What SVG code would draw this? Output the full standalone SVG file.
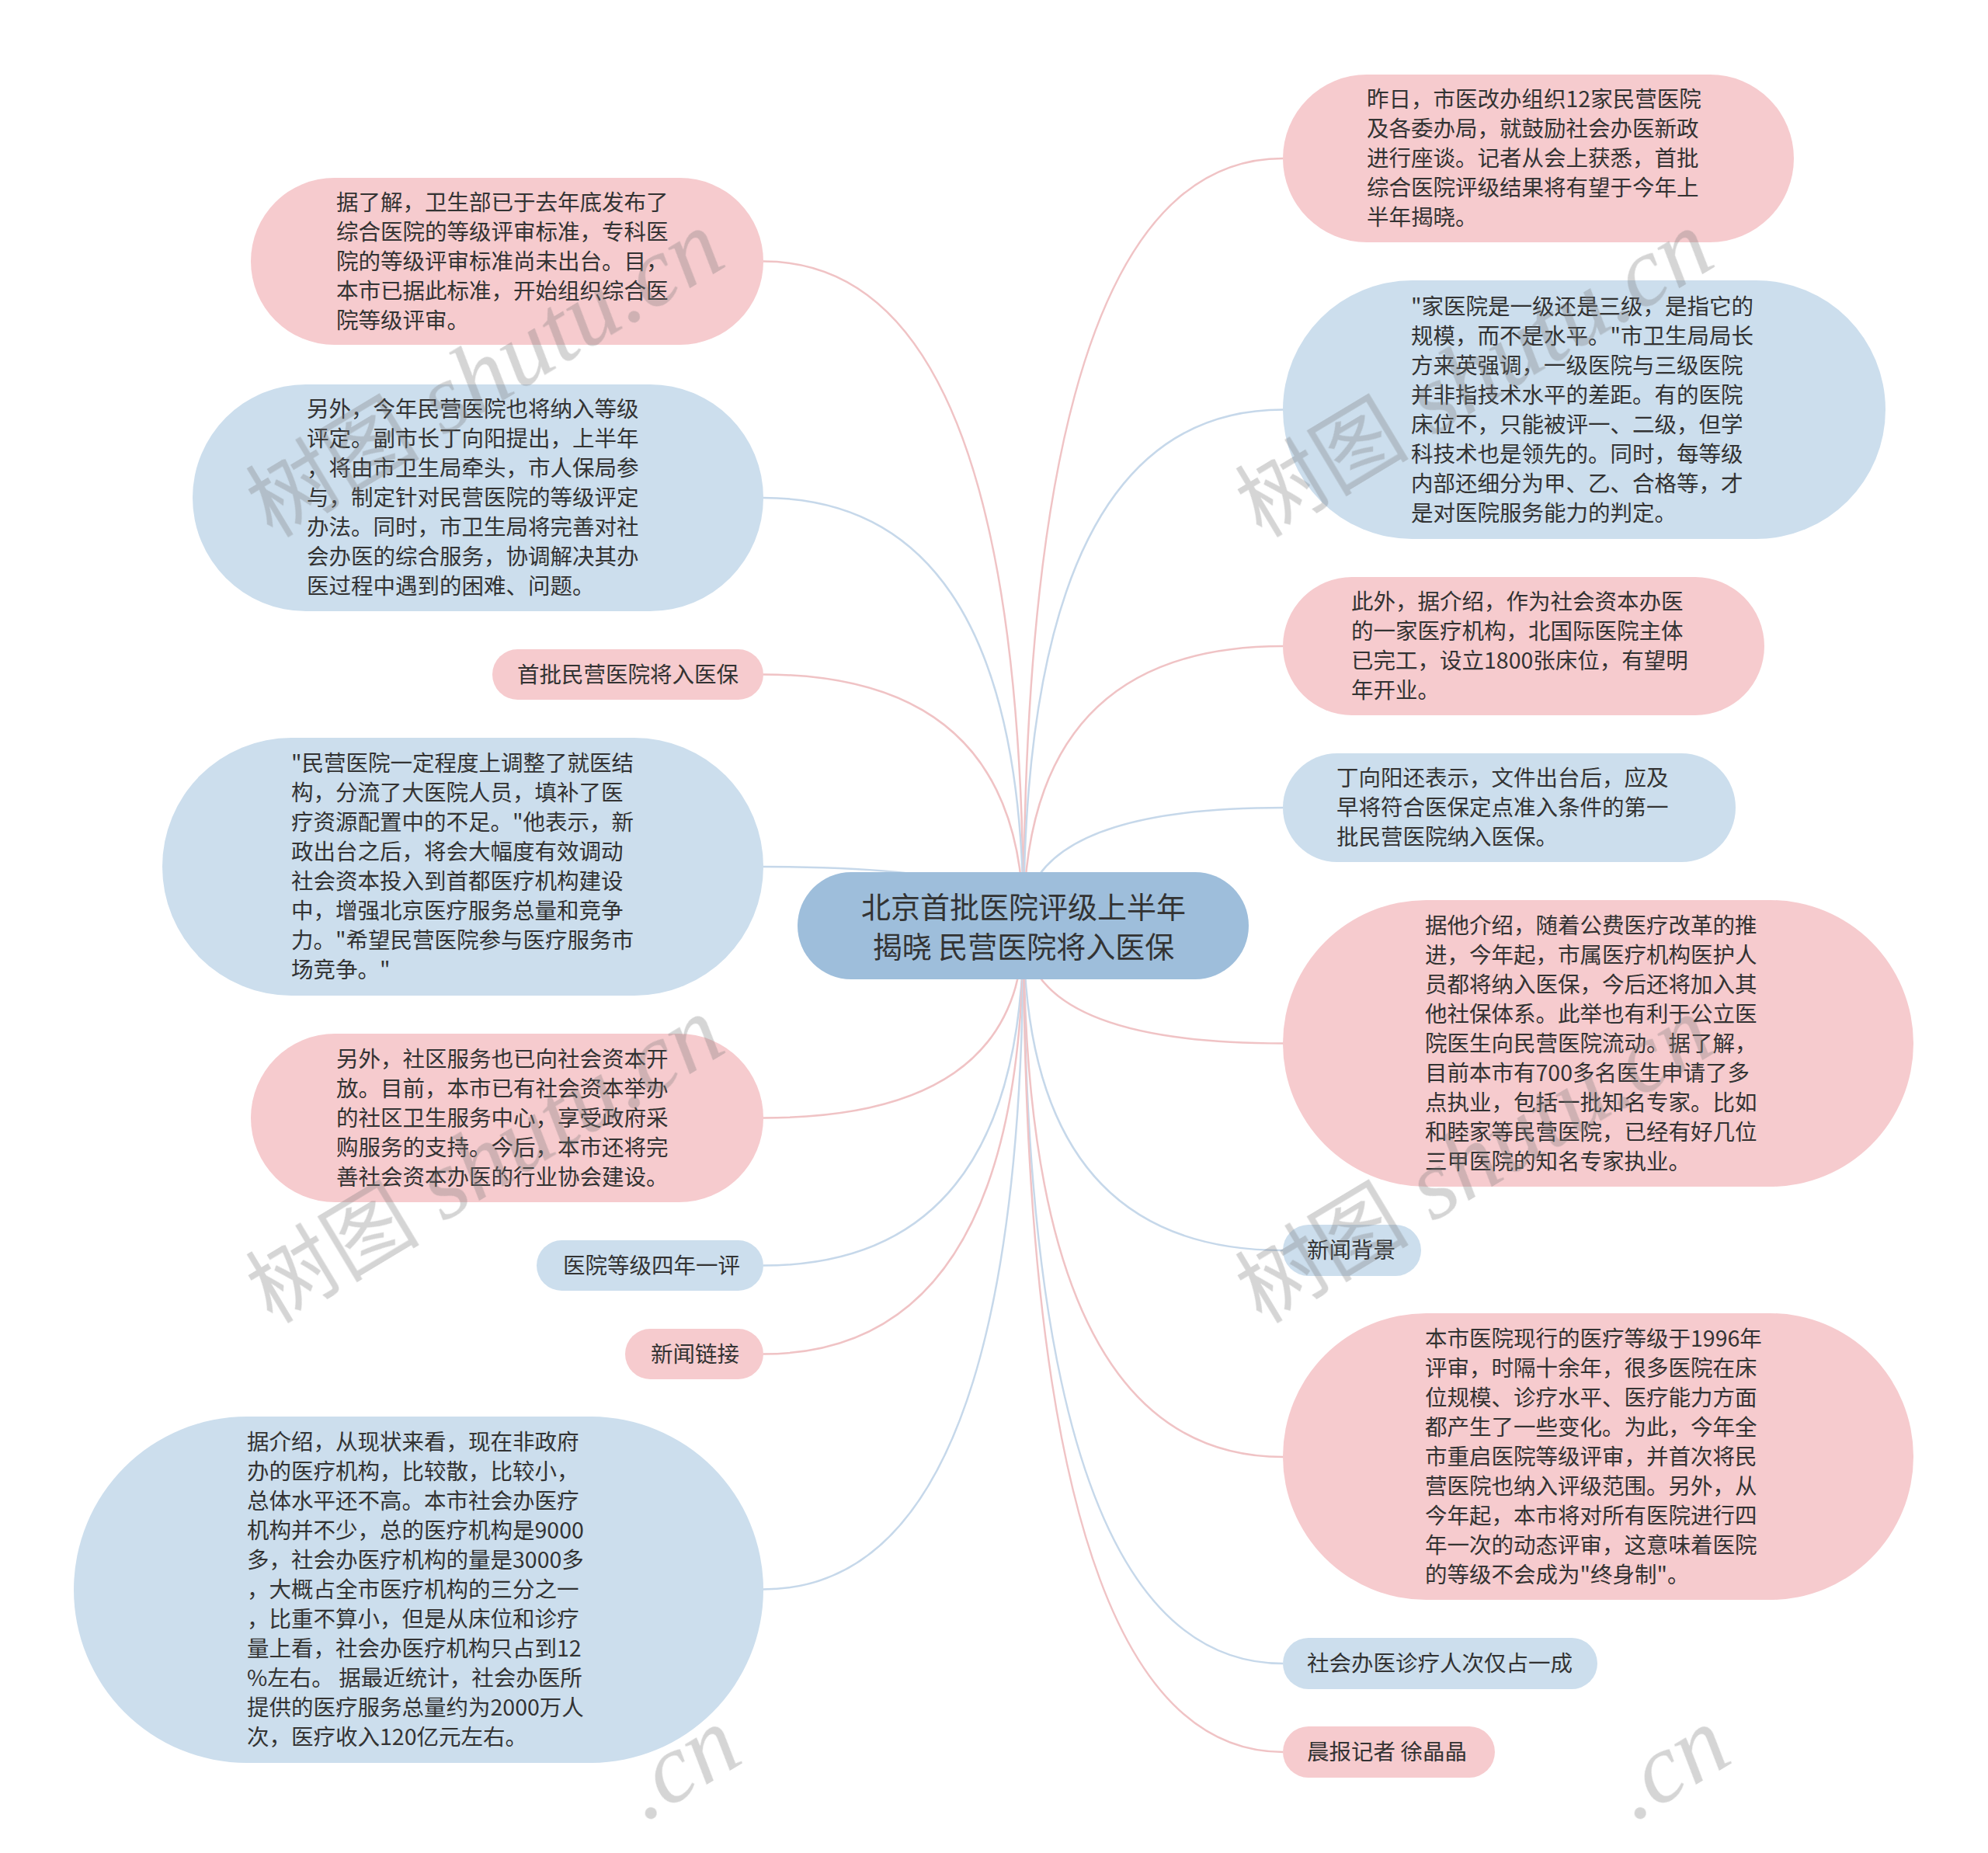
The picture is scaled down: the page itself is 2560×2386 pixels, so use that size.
<svg xmlns="http://www.w3.org/2000/svg" width="2560" height="2386" viewBox="0 0 2560 2386">
<style>
.bg{fill:#ffffff}
.pink{fill:#f6cbce}
.blue{fill:#ccdeed}
.root{fill:#9ebedb}
.t{font-family:"Noto Sans CJK SC","Noto Sans",sans-serif;font-size:28.5px;fill:#333333}
.rt{font-family:"Noto Sans CJK SC","Noto Sans",sans-serif;font-size:38px;fill:#333333;text-anchor:middle}
.lp{fill:none;stroke:#f0c3c5;stroke-width:2.5}
.lb{fill:none;stroke:#c6d8ea;stroke-width:2.5}
.wm{fill:#7a7a7a;opacity:0.32}
.wc{font-family:"Noto Sans CJK SC",sans-serif;font-size:112px}
.wl{font-family:"Liberation Serif",serif;font-style:italic;font-size:128px}
</style>
<rect class="bg" x="0" y="0" width="2560" height="2386"/>
<g id="connectors">
<path class="lp" d="M1318,1192 Q1318,336.5 983,336.5"/>
<path class="lb" d="M1318,1192 Q1318,641 983,641"/>
<path class="lp" d="M1318,1192 Q1318,868.5 983,868.5"/>
<path class="lb" d="M1318,1192 Q1318,1116 983,1116"/>
<path class="lp" d="M1318,1192 Q1318,1439.5 983,1439.5"/>
<path class="lb" d="M1318,1192 Q1318,1629.5 983,1629.5"/>
<path class="lp" d="M1318,1192 Q1318,1743.5 983,1743.5"/>
<path class="lb" d="M1318,1192 Q1318,2046.5 983,2046.5"/>
<path class="lp" d="M1318,1192 Q1318,204 1652,204"/>
<path class="lb" d="M1318,1192 Q1318,527.5 1652,527.5"/>
<path class="lp" d="M1318,1192 Q1318,832 1652,832"/>
<path class="lb" d="M1318,1192 Q1318,1040 1652,1040"/>
<path class="lp" d="M1318,1192 Q1318,1343.5 1652,1343.5"/>
<path class="lb" d="M1318,1192 Q1318,1610 1652,1610"/>
<path class="lp" d="M1318,1192 Q1318,1876 1652,1876"/>
<path class="lb" d="M1318,1192 Q1318,2142 1652,2142"/>
<path class="lp" d="M1318,1192 Q1318,2256 1652,2256"/>
</g>
<g id="root">
<rect class="root" x="1027" y="1123" width="581" height="138" rx="69"/>
<text class="rt" x="1318" y="1182">北京首批医院评级上半年</text>
<text class="rt" x="1318" y="1233">揭晓 民营医院将入医保</text>
</g>
<g id="L1">
<rect class="pink" x="323" y="229" width="660" height="215" rx="107.5"/>
<text class="t" y="271"><tspan x="433">据了解，卫生部已于去年底发布了</tspan><tspan x="433" dy="38">综合医院的等级评审标准，专科医</tspan><tspan x="433" dy="38">院的等级评审标准尚未出台。目，</tspan><tspan x="433" dy="38">本市已据此标准，开始组织综合医</tspan><tspan x="433" dy="38">院等级评审。</tspan></text>
</g>
<g id="L2">
<rect class="blue" x="248" y="495" width="735" height="292" rx="146"/>
<text class="t" y="537"><tspan x="395">另外，今年民营医院也将纳入等级</tspan><tspan x="395" dy="38">评定。副市长丁向阳提出，上半年</tspan><tspan x="395" dy="38">，将由市卫生局牵头，市人保局参</tspan><tspan x="395" dy="38">与，制定针对民营医院的等级评定</tspan><tspan x="395" dy="38">办法。同时，市卫生局将完善对社</tspan><tspan x="395" dy="38">会办医的综合服务，协调解决其办</tspan><tspan x="395" dy="38">医过程中遇到的困难、问题。</tspan></text>
</g>
<g id="L3">
<rect class="pink" x="634" y="836" width="349" height="65" rx="32.5"/>
<text class="t" x="666" y="879">首批民营医院将入医保</text>
</g>
<g id="L4">
<rect class="blue" x="209" y="950" width="774" height="332" rx="166"/>
<text class="t" y="993"><tspan x="375">"民营医院一定程度上调整了就医结</tspan><tspan x="375" dy="38">构，分流了大医院人员，填补了医</tspan><tspan x="375" dy="38">疗资源配置中的不足。"他表示，新</tspan><tspan x="375" dy="38">政出台之后，将会大幅度有效调动</tspan><tspan x="375" dy="38">社会资本投入到首都医疗机构建设</tspan><tspan x="375" dy="38">中，增强北京医疗服务总量和竞争</tspan><tspan x="375" dy="38">力。"希望民营医院参与医疗服务市</tspan><tspan x="375" dy="38">场竞争。"</tspan></text>
</g>
<g id="L5">
<rect class="pink" x="323" y="1331" width="660" height="217" rx="108.5"/>
<text class="t" y="1374"><tspan x="433">另外，社区服务也已向社会资本开</tspan><tspan x="433" dy="38">放。目前，本市已有社会资本举办</tspan><tspan x="433" dy="38">的社区卫生服务中心，享受政府采</tspan><tspan x="433" dy="38">购服务的支持。今后，本市还将完</tspan><tspan x="433" dy="38">善社会资本办医的行业协会建设。</tspan></text>
</g>
<g id="L6">
<rect class="blue" x="691" y="1597" width="292" height="65" rx="32.5"/>
<text class="t" x="725" y="1640">医院等级四年一评</text>
</g>
<g id="L7">
<rect class="pink" x="805" y="1711" width="178" height="65" rx="32.5"/>
<text class="t" x="838" y="1754">新闻链接</text>
</g>
<g id="L8">
<rect class="blue" x="95" y="1824" width="888" height="446" rx="223"/>
<text class="t" y="1867"><tspan x="318">据介绍，从现状来看，现在非政府</tspan><tspan x="318" dy="38">办的医疗机构，比较散，比较小，</tspan><tspan x="318" dy="38">总体水平还不高。本市社会办医疗</tspan><tspan x="318" dy="38">机构并不少，总的医疗机构是9000</tspan><tspan x="318" dy="38">多，社会办医疗机构的量是3000多</tspan><tspan x="318" dy="38">，大概占全市医疗机构的三分之一</tspan><tspan x="318" dy="38">，比重不算小，但是从床位和诊疗</tspan><tspan x="318" dy="38">量上看，社会办医疗机构只占到12</tspan><tspan x="318" dy="38">%左右。 据最近统计，社会办医所</tspan><tspan x="318" dy="38">提供的医疗服务总量约为2000万人</tspan><tspan x="318" dy="38">次，医疗收入120亿元左右。</tspan></text>
</g>
<g id="R1">
<rect class="pink" x="1652" y="96" width="658" height="216" rx="108"/>
<text class="t" y="138"><tspan x="1760">昨日，市医改办组织12家民营医院</tspan><tspan x="1760" dy="38">及各委办局，就鼓励社会办医新政</tspan><tspan x="1760" dy="38">进行座谈。记者从会上获悉，首批</tspan><tspan x="1760" dy="38">综合医院评级结果将有望于今年上</tspan><tspan x="1760" dy="38">半年揭晓。</tspan></text>
</g>
<g id="R2">
<rect class="blue" x="1652" y="361" width="776" height="333" rx="166.5"/>
<text class="t" y="405"><tspan x="1817">"家医院是一级还是三级，是指它的</tspan><tspan x="1817" dy="38">规模，而不是水平。"市卫生局局长</tspan><tspan x="1817" dy="38">方来英强调，一级医院与三级医院</tspan><tspan x="1817" dy="38">并非指技术水平的差距。有的医院</tspan><tspan x="1817" dy="38">床位不，只能被评一、二级，但学</tspan><tspan x="1817" dy="38">科技术也是领先的。同时，每等级</tspan><tspan x="1817" dy="38">内部还细分为甲、乙、合格等，才</tspan><tspan x="1817" dy="38">是对医院服务能力的判定。</tspan></text>
</g>
<g id="R3">
<rect class="pink" x="1652" y="743" width="620" height="178" rx="89"/>
<text class="t" y="785"><tspan x="1740">此外，据介绍，作为社会资本办医</tspan><tspan x="1740" dy="38">的一家医疗机构，北国际医院主体</tspan><tspan x="1740" dy="38">已完工，设立1800张床位，有望明</tspan><tspan x="1740" dy="38">年开业。</tspan></text>
</g>
<g id="R4">
<rect class="blue" x="1652" y="970" width="583" height="140" rx="70"/>
<text class="t" y="1012"><tspan x="1721">丁向阳还表示，文件出台后，应及</tspan><tspan x="1721" dy="38">早将符合医保定点准入条件的第一</tspan><tspan x="1721" dy="38">批民营医院纳入医保。</tspan></text>
</g>
<g id="R5">
<rect class="pink" x="1652" y="1159" width="812" height="369" rx="184.5"/>
<text class="t" y="1202"><tspan x="1835">据他介绍，随着公费医疗改革的推</tspan><tspan x="1835" dy="38">进，今年起，市属医疗机构医护人</tspan><tspan x="1835" dy="38">员都将纳入医保，今后还将加入其</tspan><tspan x="1835" dy="38">他社保体系。此举也有利于公立医</tspan><tspan x="1835" dy="38">院医生向民营医院流动。据了解，</tspan><tspan x="1835" dy="38">目前本市有700多名医生申请了多</tspan><tspan x="1835" dy="38">点执业，包括一批知名专家。比如</tspan><tspan x="1835" dy="38">和睦家等民营医院，已经有好几位</tspan><tspan x="1835" dy="38">三甲医院的知名专家执业。</tspan></text>
</g>
<g id="R6">
<rect class="blue" x="1652" y="1577" width="178" height="66" rx="33"/>
<text class="t" x="1683" y="1620">新闻背景</text>
</g>
<g id="R7">
<rect class="pink" x="1652" y="1691" width="812" height="369" rx="184.5"/>
<text class="t" y="1734"><tspan x="1835">本市医院现行的医疗等级于1996年</tspan><tspan x="1835" dy="38">评审，时隔十余年，很多医院在床</tspan><tspan x="1835" dy="38">位规模、诊疗水平、医疗能力方面</tspan><tspan x="1835" dy="38">都产生了一些变化。为此，今年全</tspan><tspan x="1835" dy="38">市重启医院等级评审，并首次将民</tspan><tspan x="1835" dy="38">营医院也纳入评级范围。另外，从</tspan><tspan x="1835" dy="38">今年起，本市将对所有医院进行四</tspan><tspan x="1835" dy="38">年一次的动态评审，这意味着医院</tspan><tspan x="1835" dy="38">的等级不会成为"终身制"。</tspan></text>
</g>
<g id="R8">
<rect class="blue" x="1652" y="2109" width="405" height="66" rx="33"/>
<text class="t" x="1683" y="2152">社会办医诊疗人次仅占一成</text>
</g>
<g id="R9">
<rect class="pink" x="1652" y="2223" width="273" height="66" rx="33"/>
<text class="t" x="1683" y="2266">晨报记者 徐晶晶</text>
</g>
<g id="watermark" class="wm">
<text transform="translate(351,694) rotate(-31)"><tspan class="wc">树图</tspan><tspan class="wl"> shutu.cn</tspan></text>
<text transform="translate(1625,694) rotate(-31)"><tspan class="wc">树图</tspan><tspan class="wl"> shutu.cn</tspan></text>
<text transform="translate(351,1706) rotate(-31)"><tspan class="wc">树图</tspan><tspan class="wl"> shutu.cn</tspan></text>
<text transform="translate(1625,1706) rotate(-31)"><tspan class="wc">树图</tspan><tspan class="wl"> shutu.cn</tspan></text>
<text class="wl" transform="translate(830,2346) rotate(-31)">.cn</text>
<text class="wl" transform="translate(2104,2346) rotate(-31)">.cn</text>
</g>
</svg>
